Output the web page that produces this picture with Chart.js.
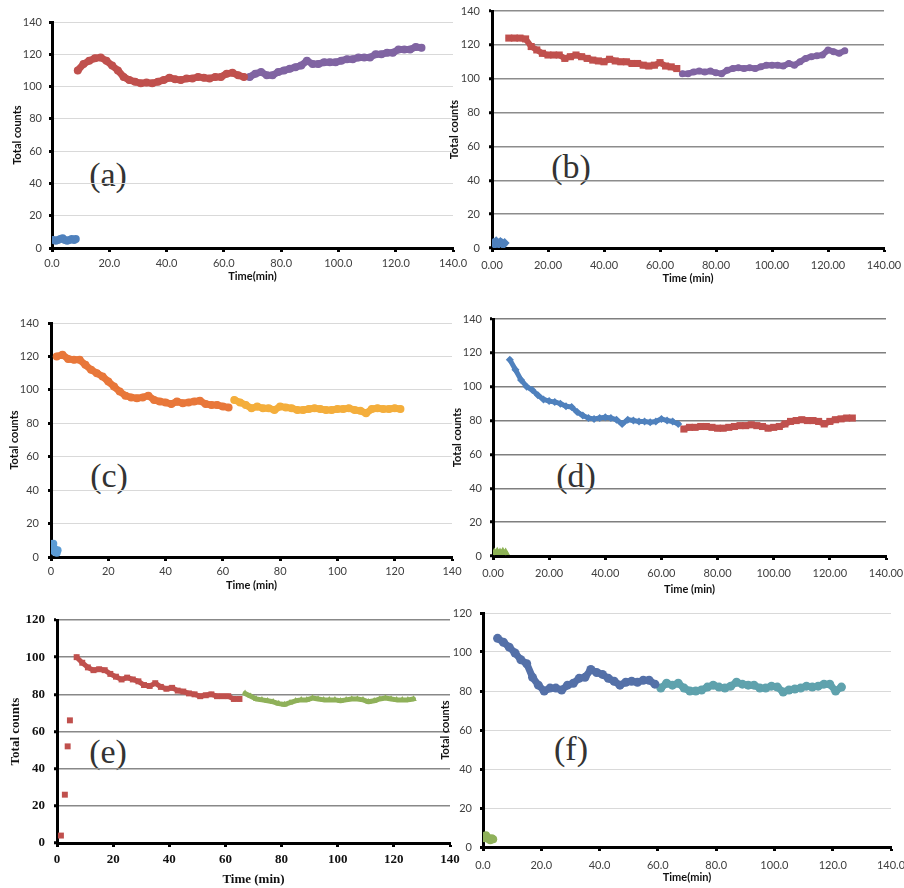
<!DOCTYPE html>
<html>
<head>
<meta charset="utf-8">
<script src="https://cdn.jsdelivr.net/npm/chart.js@4.4.0/dist/chart.umd.min.js"></script>
<style>
  html, body { margin: 0; padding: 0; background: #fff; width: 904px; height: 888px; overflow: hidden; }
  canvas { position: absolute; }
  .tag { position: absolute; font-family: "Liberation Serif", serif; font-size: 34px; color: #333;
         transform: translate(-50%, -50%); line-height: 1; white-space: nowrap; }
</style>
</head>
<body>
<div class="tag" style="left:108px;top:175px">(a)</div>
<div class="tag" style="left:571px;top:167px">(b)</div>
<div class="tag" style="left:109px;top:476px">(c)</div>
<div class="tag" style="left:576px;top:476px">(d)</div>
<div class="tag" style="left:108px;top:752px">(e)</div>
<div class="tag" style="left:571px;top:749px">(f)</div>
<script>
// sampled every 2 min from the start time given, read off the figure
// (a)
const aBlueT = [0.5, 1.3, 2.1, 2.9, 3.7, 4.5, 5.3, 6.1, 6.9, 7.7, 8.3];
const aBlue = [5, 4.5, 5, 5.5, 6, 5, 4.5, 5, 5.5, 5, 5.5];
const aRedStart = 9;
const aRed = [110, 114, 116, 117.5, 118, 116, 113, 110, 106, 104, 103, 102, 102.5, 102, 103, 104,
  105.5, 104.5, 104, 105, 105, 106, 105.5, 105, 106, 106, 108, 108.5, 107, 106];
const aPurpleStart = 69;
const aPurple = [106, 108, 109, 107, 107, 109, 110, 111, 112, 113, 116, 114, 114, 115, 115, 115,
  116, 117, 117, 118, 118, 118, 120, 120, 121, 121, 123, 123, 123, 124.5, 124];

// (b)
const bBlueT = [0.5, 1, 1.5, 2, 2.5, 3, 3.5, 4, 4.5];
const bBlue = [3, 2, 4, 3, 2.5, 3.5, 3, 2, 3];
const bRedStart = 6;
const bRed = [124, 124, 124, 123.5, 119, 117, 115, 114, 114, 114, 112, 113, 114, 113, 112, 111,
  110.5, 110, 111.5, 110.5, 110, 110, 109, 109, 108, 107.5, 108, 109.5, 107.5, 107, 106];
const bPurpleStart = 68;
const bPurple = [103, 103, 104, 104.5, 104, 104.5, 103.5, 103, 105, 106, 106.5, 106, 106.5, 106,
  107, 108, 108, 108, 107.5, 109, 108, 110, 112, 113, 113.5, 114, 117, 116, 115, 116.5];

// (c)
const cBlueT = [0.2, 0.5, 0.8, 1.1, 1.4, 1.7, 2, 2.3];
const cBlue = [4, 6, 8, 5, 3, 4, 2.5, 4];
const cOrangeStart = 2;
const cOrange = [120, 121, 118.5, 118, 118, 115, 112, 110, 108, 105, 102, 99, 96.5, 95.5, 95, 95.5,
  96.5, 94, 93, 92.5, 91.5, 93, 92, 92.5, 93, 93.5, 91.5, 91, 91, 90, 89.5];
const cGoldStart = 64;
const cGold = [94, 92.5, 91, 89, 90, 89, 89, 88, 90, 89.5, 89, 88, 88, 88.5, 89, 88.5, 88, 88,
  88.5, 88.5, 89, 88, 87.5, 86, 88.5, 89, 88.5, 88.5, 89, 88.5];

// (d)
const dGreenT = [0.5, 1.5, 2.5, 3.5, 4.5];
const dGreen = [2, 2.5, 2, 2.5, 2];
const dBlueStart = 6;
const dBlue = [116, 110, 104, 100, 98, 95, 92.5, 91.5, 91, 90, 88.5, 88, 85, 83, 81.5, 81, 81.5,
  82, 81.5, 80.5, 78, 80.5, 80, 79.5, 79.5, 79, 79.5, 81, 80, 79.5, 78];
const dRedStart = 68;
const dRed = [75, 76, 76, 76.5, 76.5, 76, 75.5, 75.5, 76, 76.5, 77, 77, 77.5, 77, 76.5, 75.5, 76,
  76.5, 78, 79.5, 80, 80.5, 80, 80, 79.5, 78, 79.5, 80.5, 81, 81.5, 81.5];

// (e)
const eRiseT = [1.4, 2.8, 3.8, 4.6];
const eRise = [4, 26, 52, 66];
const eRedStart = 7;
const eRed = [100, 97, 94.5, 93, 93.5, 93, 91, 89.5, 88, 89, 88, 87, 85, 84.5, 86, 84, 83, 83.5,
  82, 81.5, 80.5, 80, 79, 79.5, 80, 79, 79, 79, 77.5, 77.5];
const eGreenStart = 67;
const eGreen = [80.5, 79, 77.5, 77, 76.5, 76, 75, 74.5, 75.5, 76.5, 77, 77, 78, 77.5, 77, 77, 77,
  76.5, 77, 77.5, 77.5, 77, 76, 76.5, 77.5, 78, 77.5, 77, 77, 77, 77.5];

// (f)
const fGreenT = [0.5, 1, 1.5, 2, 2.5, 3, 3.5];
const fGreen = [4.5, 6, 5, 4, 3.5, 4.5, 4];
const fBlueStart = 5;
const fBlue = [107, 105, 102.5, 99.5, 96, 94, 87, 83, 80, 81.5, 81.5, 80.5, 83, 84, 86.5, 87, 91,
  89.5, 88.5, 86.5, 85, 83, 84.5, 85, 84.5, 85.5, 85.5, 83.5];
const fTealStart = 61;
const fTeal = [81.5, 84, 83, 84, 81.5, 80, 80, 80.5, 82, 83, 82, 81.5, 82.5, 84.5, 83.5, 83, 83,
  81.5, 81.5, 82.5, 82, 79.5, 80.5, 81, 81.5, 82.5, 82, 82.5, 83.5, 83.5, 80, 82];

const pairs = (ts, ys) => ts.map((x, i) => ({ x: x, y: ys[i] }));
const every2 = (start, ys) => ys.map((y, i) => ({ x: start + 2 * i, y: y }));

function makePanel(p) {
  const cv = document.createElement('canvas');
  const left = p.ax - p.W, top = p.top - 8;
  cv.width = p.right + 22 - left;
  cv.height = p.bottom + p.H - top;
  cv.style.left = left + 'px';
  cv.style.top = top + 'px';
  document.body.appendChild(cv);

  const tickFont = { family: p.family, size: p.tickSize, weight: p.tickWeight };
  const titleFont = { family: p.family, size: p.titleSize, weight: 'bold' };

  new Chart(cv, {
    type: 'scatter',
    data: {
      // the original markers are so dense they read as a thick band,
      // so a wide line joins the sampled points
      datasets: p.series.map(s => ({
        data: s.data,
        backgroundColor: s.color,
        borderColor: s.color,
        borderWidth: s.lw || 0,
        showLine: !!s.lw,
        borderCapStyle: 'round',
        borderJoinStyle: 'round',
        tension: 0,
        pointBorderWidth: 0,
        pointStyle: s.style,
        pointRadius: s.r,
        pointHoverRadius: s.r
      }))
    },
    options: {
      responsive: false,
      animation: false,
      events: [],
      layout: { padding: { top: 8, right: 22, left: 0, bottom: 0 } },
      plugins: { legend: { display: false }, tooltip: { enabled: false } },
      scales: {
        x: {
          type: 'linear', min: 0, max: 140,
          ticks: { stepSize: 20, padding: p.xPad, color: p.tickColor, font: tickFont, maxRotation: 0,
                   callback: v => v.toFixed(p.dec) },
          grid: { drawOnChartArea: false, tickLength: 4, tickColor: '#000', tickWidth: 3 },
          border: { color: '#000', width: 3 },
          title: { display: true, text: p.xTitle, padding: 0, color: '#111', font: titleFont },
          afterFit: s => { s.height = p.H; s.paddingLeft = 0; s.paddingRight = 0; }
        },
        y: {
          min: 0, max: p.yMax,
          ticks: { stepSize: 20, padding: p.yPad, color: p.tickColor, font: tickFont },
          grid: { color: p.grid, lineWidth: p.gridW, tickLength: 3, tickColor: '#000', tickWidth: 3 },
          border: { color: '#000', width: 3 },
          title: { display: true, text: 'Total counts', padding: 0, color: '#111', font: titleFont },
          afterFit: s => { s.width = p.W; s.paddingTop = 0; s.paddingBottom = 0; }
        }
      }
    }
  });
}

const sans = { family: 'Lato, "Open Sans", sans-serif', tickSize: 11, tickWeight: 'normal', titleSize: 11, tickColor: '#404040' };
const serif = { family: '"Liberation Serif", serif', tickSize: 13, tickWeight: 'bold', titleSize: 13, tickColor: '#111' };

makePanel(Object.assign({}, sans, {
  ax: 52, top: 22, bottom: 248, right: 453, W: 41, H: 35, xPad: 5, yPad: 7, dec: 1, yMax: 140,
  grid: '#d9d9d9', gridW: 1, xTitle: 'Time(min)',
  series: [
    { data: pairs(aBlueT, aBlue), color: '#4F81BD', style: 'circle', r: 4, lw: 6 },
    { data: every2(aRedStart, aRed), color: '#C0504D', style: 'circle', r: 4, lw: 7 },
    { data: every2(aPurpleStart, aPurple), color: '#8064A2', style: 'circle', r: 4, lw: 7 }
  ]
}));

makePanel(Object.assign({}, sans, {
  ax: 492, top: 11, bottom: 248, right: 884, W: 44, H: 37, xPad: 7, yPad: 9, dec: 2, yMax: 140,
  grid: '#8c8c8c', gridW: 1.5, xTitle: 'Time (min)',
  series: [
    { data: pairs(bBlueT, bBlue), color: '#4F81BD', style: 'rectRot', r: 5, lw: 5 },
    { data: every2(bRedStart, bRed), color: '#C0504D', style: 'rect', r: 5, lw: 6 },
    { data: every2(bPurpleStart, bPurple), color: '#8064A2', style: 'circle', r: 3.5, lw: 6 }
  ]
}));

makePanel(Object.assign({}, sans, {
  ax: 51, top: 323, bottom: 557, right: 452, W: 43, H: 35, xPad: 4, yPad: 9, dec: 0, yMax: 140,
  grid: '#d9d9d9', gridW: 1, xTitle: 'Time (min)',
  series: [
    { data: pairs(cBlueT, cBlue), color: '#5B9BD5', style: 'circle', r: 4, lw: 6 },
    { data: every2(cOrangeStart, cOrange), color: '#E8773A', style: 'circle', r: 4, lw: 7 },
    { data: every2(cGoldStart, cGold), color: '#F4AE3C', style: 'circle', r: 4, lw: 7 }
  ]
}));

makePanel(Object.assign({}, sans, {
  ax: 493, top: 319, bottom: 556, right: 886, W: 42, H: 40, xPad: 7, yPad: 8, dec: 2, yMax: 140,
  grid: '#7f7f7f', gridW: 1.5, xTitle: 'Time (min)',
  series: [
    { data: pairs(dGreenT, dGreen), color: '#8DB255', style: 'triangle', r: 5, lw: 5 },
    { data: every2(dBlueStart, dBlue), color: '#4F81BD', style: 'rectRot', r: 4, lw: 5 },
    { data: every2(dRedStart, dRed), color: '#C0504D', style: 'rect', r: 5, lw: 6 }
  ]
}));

makePanel(Object.assign({}, serif, {
  ax: 57, top: 620, bottom: 843, right: 450, W: 49, H: 44, xPad: 5, yPad: 9, dec: 0, yMax: 120,
  grid: '#888888', gridW: 1.5, xTitle: 'Time (min)',
  series: [
    { data: pairs(eRiseT, eRise), color: '#C0504D', style: 'rect', r: 4.2 },
    { data: every2(eRedStart, eRed), color: '#C0504D', style: 'rect', r: 4.2, lw: 5 },
    { data: every2(eGreenStart, eGreen), color: '#8FB15A', style: 'triangle', r: 3.8, lw: 5 }
  ]
}));

makePanel(Object.assign({}, sans, {
  ax: 483, top: 613, bottom: 847, right: 891, W: 44, H: 37, xPad: 8, yPad: 8, dec: 1, yMax: 120,
  grid: '#d9d9d9', gridW: 1, xTitle: 'Time(min)',
  series: [
    { data: pairs(fGreenT, fGreen), color: '#8FB15A', style: 'circle', r: 4, lw: 6 },
    { data: every2(fBlueStart, fBlue), color: '#5470A8', style: 'circle', r: 4.5, lw: 7 },
    { data: every2(fTealStart, fTeal), color: '#5FA2AD', style: 'circle', r: 4.5, lw: 7 }
  ]
}));
</script>
</body>
</html>
